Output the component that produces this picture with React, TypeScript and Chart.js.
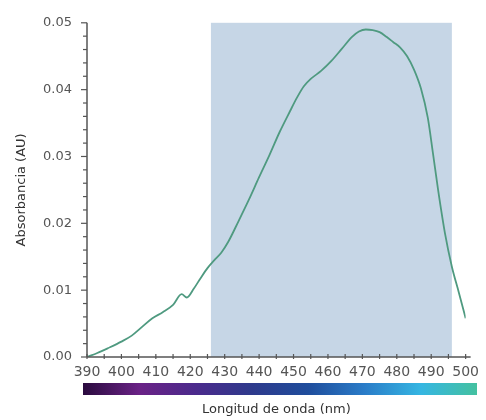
import React, { useEffect, useRef } from "react";
import { Chart, registerables } from "chart.js";

Chart.register(...registerables);

const wavelengths = [390, 393, 396, 400, 403, 406, 409, 412, 415, 417.5, 419, 421, 423, 425, 427, 429, 431, 434, 437, 440, 443, 446, 449, 451, 453, 455, 458, 461, 464, 467, 469, 471, 473, 475, 477, 479, 481, 483, 485, 487, 489, 490.5, 492, 494, 496, 498, 500];
const absorbance = [0.0, 0.0006, 0.0013, 0.0023, 0.0032, 0.0045, 0.0058, 0.0067, 0.0078, 0.0094, 0.0089, 0.0102, 0.0118, 0.0133, 0.0145, 0.0156, 0.0172, 0.0203, 0.0235, 0.0269, 0.0302, 0.0337, 0.0368, 0.0388, 0.0405, 0.0416, 0.0428, 0.0443, 0.0461, 0.0479, 0.0487, 0.049, 0.0489, 0.0486, 0.0479, 0.0471, 0.0463, 0.045, 0.043, 0.0402, 0.0358, 0.0305, 0.025, 0.0185, 0.0135, 0.0097, 0.0058];
const shadeRange = [426, 496];
const xTickValues = [390, 400, 410, 420, 430, 440, 450, 460, 470, 480, 490, 500];
const yTickValues = [0.0, 0.01, 0.02, 0.03, 0.04, 0.05];
const spectrumStops = ["#2a0b3e", "#6a2286", "#4b2a8c", "#2e3a8c", "#1f4d9c", "#2a7cc8", "#35b6e2", "#44c1a0"];

const FONT = "'DejaVu Sans', sans-serif";

const decorPlugin = {
  id: "decor",
  beforeDatasetsDraw(chart: any) {
    const { ctx, chartArea, scales } = chart;
    const x0 = scales.x.getPixelForValue(shadeRange[0]);
    const x1 = scales.x.getPixelForValue(shadeRange[1]);
    ctx.save();
    ctx.fillStyle = "#c6d6e6";
    ctx.fillRect(x0, chartArea.top, x1 - x0, chartArea.bottom - chartArea.top);
    ctx.restore();
  },
  afterDraw(chart: any) {
    const { ctx, chartArea, scales } = chart;
    const { left, right, top, bottom } = chartArea;
    ctx.save();
    ctx.strokeStyle = "#555";
    ctx.lineWidth = 1.5;
    ctx.beginPath();
    ctx.moveTo(left, top);
    ctx.lineTo(left, bottom);
    ctx.moveTo(left, bottom);
    ctx.lineTo(right + 5, bottom);
    ctx.stroke();
    ctx.lineWidth = 1.2;
    for (let v = 0; v <= 0.0501; v += 0.002) {
      const y = scales.y.getPixelForValue(v);
      const major = Math.abs(v / 0.01 - Math.round(v / 0.01)) < 1e-6;
      ctx.beginPath();
      ctx.moveTo(left, y);
      ctx.lineTo(left - (major ? 6 : 4), y);
      ctx.stroke();
    }
    for (let v = 390; v <= 500; v += 5) {
      const x = scales.x.getPixelForValue(v);
      ctx.beginPath();
      ctx.moveTo(x, bottom - 3);
      ctx.lineTo(x, bottom + 2);
      ctx.stroke();
    }
    const bx0 = 83, bx1 = 477, by = 383, bh = 12;
    const g = ctx.createLinearGradient(bx0, 0, bx1, 0);
    spectrumStops.forEach((c, i) => g.addColorStop(i / (spectrumStops.length - 1), c));
    ctx.fillStyle = g;
    ctx.fillRect(bx0, by, bx1 - bx0, bh);
    ctx.restore();
  },
};

export default function App() {
  const ref = useRef<HTMLCanvasElement>(null);
  useEffect(() => {
    document.body.style.margin = "0";
    const chart = new Chart(ref.current as HTMLCanvasElement, {
      type: "line",
      data: {
        datasets: [
          {
            data: wavelengths.map((w, i) => ({ x: w, y: absorbance[i] })),
            borderColor: "#4f9a80",
            borderWidth: 1.8,
            pointRadius: 0,
            cubicInterpolationMode: "monotone",
            fill: false,
          },
        ],
      },
      options: {
        animation: false,
        responsive: false,
        maintainAspectRatio: false,
        layout: { padding: { top: 22, right: 18, left: 0, bottom: 0 } },
        plugins: { legend: { display: false }, tooltip: { enabled: false } },
        scales: {
          x: {
            type: "linear",
            min: 390,
            max: 500,
            afterBuildTicks: (s: any) => {
              s.ticks = xTickValues.map((v) => ({ value: v }));
            },
            afterFit: (s: any) => {
              s.height = 63;
            },
            grid: { display: true, drawOnChartArea: false, drawTicks: true, tickLength: 0, color: "rgba(0,0,0,0)" },
            border: { display: false },
            ticks: {
              padding: 7,
              maxRotation: 0,
              autoSkip: false,
              color: "#555",
              font: { family: FONT, size: 14 },
              callback: (v: any) => String(v),
            },
            title: {
              display: true,
              text: "Longitud de onda (nm)",
              color: "#333",
              font: { family: FONT, size: 13 },
              padding: { top: 0, bottom: 3 },
            },
          },
          y: {
            min: 0,
            max: 0.05,
            afterBuildTicks: (s: any) => {
              s.ticks = yTickValues.map((v) => ({ value: v }));
            },
            afterFit: (s: any) => {
              s.width = 87;
            },
            grid: { display: true, drawOnChartArea: false, drawTicks: true, tickLength: 0, color: "rgba(0,0,0,0)" },
            border: { display: false },
            ticks: {
              padding: 15,
              color: "#555",
              font: { family: FONT, size: 13 },
              callback: (v: any) => Number(v).toFixed(2),
            },
            title: {
              display: true,
              text: "Absorbancia (AU)",
              color: "#333",
              font: { family: FONT, size: 13 },
              padding: { top: 14, bottom: 0 },
            },
          },
        },
      },
      plugins: [decorPlugin],
    });
    return () => chart.destroy();
  }, []);
  return <canvas ref={ref} width={486} height={420} style={{ display: "block" }} />;
}
